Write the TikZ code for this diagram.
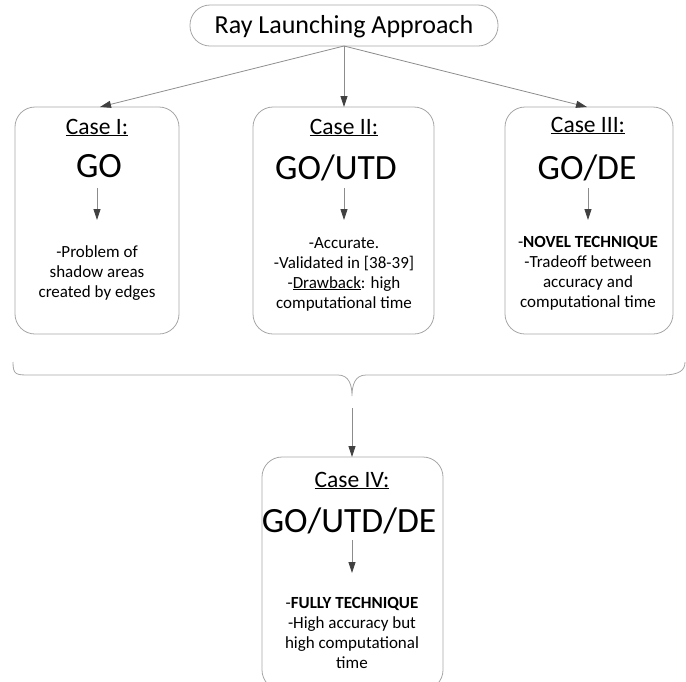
\documentclass[tikz,border=0pt]{standalone}
\usepackage{fontspec}
\setmainfont{Carlito}
\usetikzlibrary{arrows.meta}
\definecolor{boxline}{HTML}{A6A6A6}
\definecolor{conline}{HTML}{8C8C8C}
\definecolor{tipcol}{HTML}{404040}
\tikzset{
  box/.style={draw=boxline, line width=0.8pt, rounded corners=20pt, inner sep=0pt},
  con/.style={draw=conline, line width=0.8pt, -{Triangle[length=11pt,width=7pt,color=tipcol]}},
  casetxt/.style={font=\fontsize{23.5}{28}\selectfont, anchor=base, inner sep=0pt},
  bigtxt/.style={font=\fontsize{35.5}{40}\selectfont, anchor=base, inner sep=0pt},
  bodytxt/.style={font=\fontsize{17}{20}\selectfont, anchor=base, inner sep=0pt, align=center},
}
\begin{document}
\begin{tikzpicture}[x=1pt,y=-1pt]
\useasboundingbox (0,0) rectangle (686,681);
\clip (0,0) rectangle (686,681);
% top box
\node[box, minimum width=308pt, minimum height=41pt] (top) at (344,25.5) {};
\node[font=\fontsize{26}{30}\selectfont, anchor=base, inner sep=0pt] (toptxt) at (344,33) {Ray Launching Approach};
% case boxes
\node[box, minimum width=164pt, minimum height=227pt] (b1) at (97,220.5) {};
\node[box, minimum width=181pt, minimum height=227pt] (b2) at (343.5,220.5) {};
\node[box, minimum width=168pt, minimum height=227pt] (b3) at (589,220.5) {};
\node[box, minimum width=181pt, minimum height=233pt] (b4) at (352.5,573.5) {};
% connectors from top
\coordinate (topb) at (344,46);
\coordinate (t1) at (100,107);
\coordinate (t2) at (344,107);
\coordinate (t3) at (587,107);
\draw[con] (topb) -- (t1);
\draw[con] (topb) -- (t2);
\draw[con] (topb) -- (t3);
% Case I
\node[casetxt] (c1) at (97,134) {\underline{Case I:}};
\node[bigtxt] (g1) at (99,177) {GO};
\coordinate (a1s) at (97,188); \coordinate (a1e) at (97,220);
\draw[con] (a1s) -- (a1e);
\node[bodytxt] (d1) at (97,297) {-Problem of\\shadow areas\\created by edges};
% Case II
\node[casetxt] (c2) at (344,134) {\underline{Case II:}};
\node[bigtxt] (g2) at (336,179) {GO/UTD};
\coordinate (a2s) at (344,188); \coordinate (a2e) at (344,220);
\draw[con] (a2s) -- (a2e);
\node[bodytxt] (d2) at (344,308) {-Accurate.\\-Validated in [38-39]\\-\underline{Drawback}: high\\computational time};
% Case III
\node[casetxt] (c3) at (588,132) {\underline{Case III:}};
\node[bigtxt] (g3) at (587,179) {GO/DE};
\coordinate (a3s) at (588,188); \coordinate (a3e) at (588,220);
\draw[con] (a3s) -- (a3e);
\node[bodytxt] (d3) at (588,307) {-\textbf{NOVEL TECHNIQUE}\\-Tradeoff between\\accuracy and\\computational time};
% brace
\coordinate (brL) at (13,362);
\coordinate (brR) at (685,362);
\coordinate (brT) at (352,396);
\draw[draw=boxline, line width=0.8pt] (brL) .. controls (13,375) and (16,375) .. (30,375) -- (338,375) .. controls (349,375) and (352,385) .. (brT)
  .. controls (352,385) and (355,375) .. (366,375) -- (662,375) .. controls (680,375) and (685,370) .. (brR);
\coordinate (bra) at (352,408);
\coordinate (b4t) at (352,457);
\draw[con] (bra) -- (b4t);
% Case IV
\node[casetxt] (c4) at (352,487) {\underline{Case IV:}};
\node[bigtxt] (g4) at (349,532) {GO/UTD/DE};
\coordinate (a4s) at (352,540); \coordinate (a4e) at (352,573);
\draw[con] (a4s) -- (a4e);
\node[bodytxt] (d4) at (352,668) {-\textbf{FULLY TECHNIQUE}\\-High accuracy but\\high computational\\time};
\end{tikzpicture}
\end{document}
